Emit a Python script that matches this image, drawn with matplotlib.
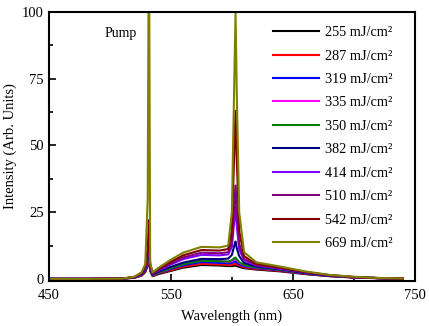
import numpy as np
import matplotlib
matplotlib.use('Agg')
import matplotlib.pyplot as plt

plt.rcParams['font.family'] = ['Liberation Serif', 'DejaVu Serif']

# wavelength grid (nm)
wl = [450, 480, 510, 520, 526, 529, 531, 532, 533, 535, 540, 550, 560, 575, 590,
      597, 600, 602, 603, 604, 606, 610, 620, 640, 660, 680, 700, 720, 740]

# pump fluences (legend labels)
fluence = [255, 287, 319, 335, 350, 382, 414, 510, 542, 669]

# intensity for each fluence
I_255 = [0, 0, 0.1, 0.4, 1.2, 2.5, 5, 8, 3, 1.0, 1.8, 3.0, 4.2, 5.2, 5.0,
         4.8, 4.8, 4.9, 5.0, 4.8, 4.5, 4.0, 3.5, 2.8, 1.8, 1.0, 0.5, 0.25, 0.1]
I_287 = [0, 0, 0.1, 0.4, 1.3, 2.8, 6, 10, 3.2, 1.1, 2.0, 3.3, 4.6, 5.6, 5.4,
         5.2, 5.3, 5.6, 5.8, 5.4, 5.0, 4.3, 3.7, 3.0, 1.9, 1.1, 0.5, 0.25, 0.1]
I_319 = [0, 0, 0.1, 0.5, 1.5, 3.2, 7, 12, 3.6, 1.3, 2.2, 3.7, 5.1, 6.3, 6.0,
         5.8, 6.0, 6.4, 6.6, 6.2, 5.5, 4.7, 4.0, 3.2, 2.0, 1.1, 0.6, 0.3, 0.1]
I_335 = [0, 0, 0.1, 0.5, 1.6, 3.4, 7, 11, 3.8, 1.4, 2.4, 4.0, 5.6, 7.0, 6.7,
         6.4, 6.6, 7.2, 7.5, 7.0, 6.0, 5.1, 4.3, 3.4, 2.1, 1.2, 0.6, 0.3, 0.1]
I_350 = [0, 0, 0.1, 0.5, 1.6, 3.4, 7, 13, 3.8, 1.4, 2.4, 4.0, 5.5, 6.8, 6.6,
         6.5, 7.0, 7.8, 8.0, 7.4, 6.3, 5.2, 4.3, 3.4, 2.1, 1.2, 0.6, 0.3, 0.1]
I_382 = [0, 0, 0.1, 0.6, 1.7, 3.6, 8, 14, 4.2, 1.6, 2.7, 4.5, 6.1, 7.5, 7.4,
         7.6, 9.0, 12.5, 14.0, 11.5, 8.5, 6.0, 4.6, 3.6, 2.2, 1.2, 0.6, 0.3, 0.1]
I_414 = [0, 0, 0.1, 0.6, 1.9, 4.0, 9, 15, 4.8, 1.9, 3.2, 5.4, 7.4, 9.0, 8.8,
         9.2, 12, 22, 27, 20, 11, 7.0, 5.0, 3.8, 2.4, 1.3, 0.6, 0.3, 0.1]
I_510 = [0, 0, 0.1, 0.7, 2.0, 4.3, 9, 17, 5.1, 2.0, 3.4, 5.8, 8.0, 9.8, 9.6,
         10, 14, 28, 35, 26, 13, 7.5, 5.2, 4.0, 2.5, 1.4, 0.7, 0.3, 0.1]
I_542 = [0, 0, 0.1, 0.7, 2.2, 4.8, 11, 22, 5.6, 2.2, 3.8, 6.4, 8.8, 10.8, 10.6,
         11.2, 18, 48, 63, 45, 18, 8.5, 5.6, 4.2, 2.6, 1.4, 0.7, 0.3, 0.1]
I_669 = [0, 0, 0.1, 0.8, 2.5, 5.5, 30, 140, 6, 2.4, 4.2, 7.2, 9.8, 12.0, 11.8,
         12.5, 25, 75, 100, 70, 25, 10, 6.2, 4.6, 2.8, 1.5, 0.8, 0.35, 0.15]

spectra = [I_255, I_287, I_319, I_335, I_350, I_382, I_414, I_510, I_542, I_669]
colors = ['#000000', '#ff0000', '#0000ff', '#ff00ff', '#008000',
          '#000080', '#8000ff', '#800080', '#800000', '#808000']

fig = plt.figure(figsize=(4.29, 3.26), dpi=100)
ax = fig.add_axes([0.114, 0.138, 0.853, 0.825])

for f, I, c in zip(fluence, spectra, colors):
    ax.plot(wl, I, color=c, lw=1.5, label=f'{f} mJ/cm²')

ax.set_xlim(450, 750)
ax.set_ylim(-0.8, 100)
ax.set_xticks([450, 550, 650, 750])
ax.set_xticks([500, 600, 700], minor=True)
ax.set_yticks([0, 25, 50, 75, 100])
ax.set_yticks([12.5, 37.5, 62.5, 87.5], minor=True)
ax.tick_params(which='both', direction='in', width=1.2, labelsize=10.5)
ax.tick_params(axis='x', pad=6)
ax.tick_params(which='major', length=5)
ax.tick_params(which='minor', length=3)
for s in ax.spines.values():
    s.set_linewidth(1.5)

ax.set_xlabel('Wavelength (nm)', fontsize=10.5, labelpad=5)
ax.set_ylabel('Intensity (Arb. Units)', fontsize=10.5, labelpad=4)
ax.text(509, 92, 'Pump', fontsize=10, ha='center', va='center')

ax.legend(loc='upper left', bbox_to_anchor=(0.586, 0.985), frameon=False,
          fontsize=10.3, handlelength=3.2, labelspacing=0.73, handletextpad=0.4,
          borderaxespad=0.3)

fig.savefig('out.png', dpi=100)
